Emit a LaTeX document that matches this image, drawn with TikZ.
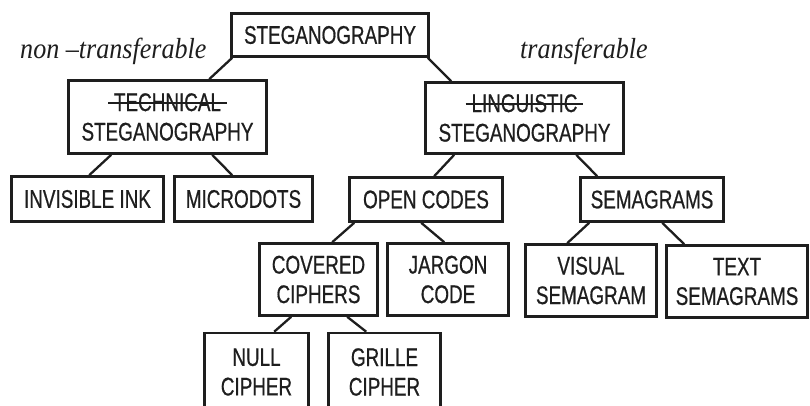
\documentclass[tikz,border=0pt]{standalone}
\usepackage{fontspec}
\usetikzlibrary{calc}
\newfontfamily\boxfont{Liberation Sans}[FakeStretch=0.74,FakeBold=0.6]
\newfontfamily\cursfont{Liberation Serif}[FakeStretch=0.9]
\newsavebox\stkbox
\newcommand\stk[1]{\sbox\stkbox{#1}\rlap{\kern-6pt\rule[0.42\ht\stkbox]{\dimexpr\wd\stkbox+12pt\relax}{2pt}}\usebox\stkbox}
\definecolor{ink}{HTML}{1E1E1E}
\tikzset{
  box/.style={draw=ink, line width=2.6pt, rectangle, inner sep=0pt, align=center,
    text=ink, font=\boxfont\fontsize{25.5}{29.5}\selectfont},
  link/.style={draw=ink, line width=2.3pt},
  lbl/.style={text=ink, inner sep=0pt, anchor=base west, font=\cursfont\itshape\fontsize{29}{30}\selectfont}
}
\begin{document}
\begin{tikzpicture}[x=1pt,y=-1pt]
\useasboundingbox (0,0) rectangle (810,405);
\clip (0,0) rectangle (810,405);
\node[box, minimum width=197pt, minimum height=43pt] (steg) at (330,35) {STEGANOGRAPHY};
\node[box, minimum width=198pt, minimum height=73pt] (tech) at (167.5,117) {\stk{TECHNICAL}\\STEGANOGRAPHY};
\node[box, minimum width=198pt, minimum height=71pt] (ling) at (524.5,118) {\stk{LINGUISTIC}\\STEGANOGRAPHY};
\node[box, minimum width=152pt, minimum height=45pt] (invink) at (87.5,199) {INVISIBLE INK};
\node[box, minimum width=138pt, minimum height=45pt] (micro) at (243.5,199) {MICRODOTS};
\node[box, minimum width=153pt, minimum height=44pt] (open) at (426,199.5) {OPEN CODES};
\node[box, minimum width=143pt, minimum height=44pt] (sema) at (652,199.5) {SEMAGRAMS};
\node[box, minimum width=118pt, minimum height=72pt] (cov) at (318.5,279.5) {COVERED\\CIPHERS};
\node[box, minimum width=121pt, minimum height=72pt] (jarg) at (448,279.5) {JARGON\\CODE};
\node[box, minimum width=131pt, minimum height=72pt] (vis) at (591,280.5) {VISUAL\\SEMAGRAM};
\node[box, minimum width=141pt, minimum height=72pt] (txt) at (737,281.5) {TEXT\\SEMAGRAMS};
\node[box, minimum width=104pt, minimum height=78pt] (null) at (256.5,372) {NULL\\CIPHER};
\node[box, minimum width=112pt, minimum height=78pt] (grille) at (384.5,372) {GRILLE\\CIPHER};
\node[lbl] (nontr) at (20,58) {non –transferable};
\node[lbl] (tr) at (520,58) {transferable};
\draw[link] ($(steg.south west)+(2,0)$) -- ($(tech.north west)+(142,0)$);
\draw[link] ($(steg.south east)+(-2,0)$) -- ($(ling.north west)+(27,0)$);
\draw[link] ($(tech.south west)+(44,0)$) -- ($(invink.north west)+(79,0)$);
\draw[link] ($(tech.south west)+(145,0)$) -- ($(micro.north west)+(59,0)$);
\draw[link] ($(ling.south west)+(30,0)$) -- ($(open.north west)+(86,0)$);
\draw[link] ($(ling.south west)+(152,0)$) -- ($(sema.north west)+(18,0)$);
\draw[link] ($(open.south west)+(6,0)$) -- ($(cov.north west)+(74,0)$);
\draw[link] ($(open.south west)+(73,0)$) -- ($(jarg.north west)+(58,0)$);
\draw[link] ($(sema.south west)+(10,0)$) -- ($(vis.north west)+(43,0)$);
\draw[link] ($(sema.south west)+(83,0)$) -- ($(txt.north west)+(19,0)$);
\draw[link] ($(cov.south west)+(33,0)$) -- ($(null.north west)+(71,0)$);
\draw[link] ($(cov.south west)+(89,0)$) -- ($(grille.north west)+(39,0)$);
\end{tikzpicture}
\end{document}
